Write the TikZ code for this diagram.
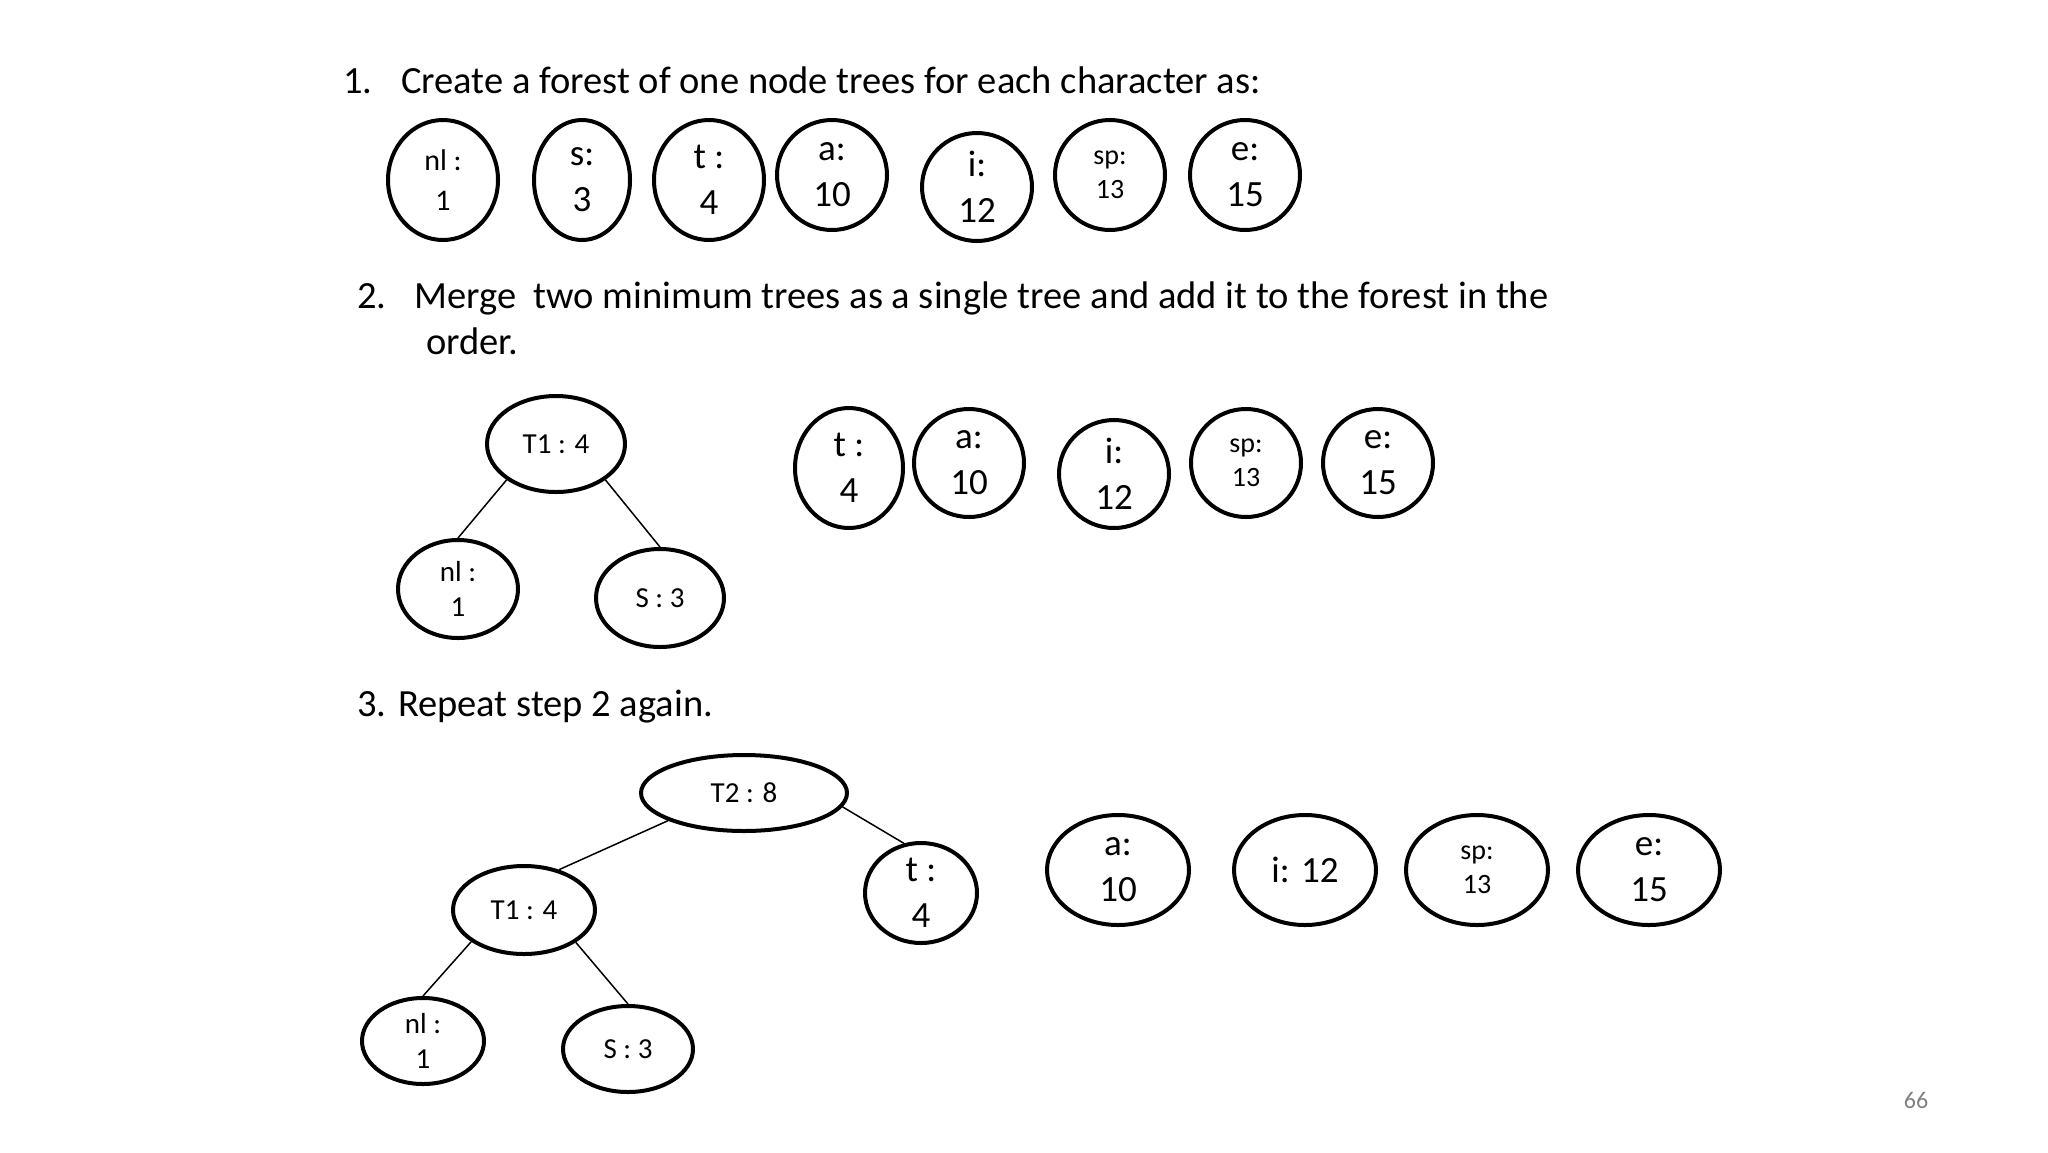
\documentclass[tikz,border=0pt]{standalone}
\usepackage{fontspec}
\setmainfont{Carlito}
\usetikzlibrary{shapes.geometric}
\definecolor{pgnum}{RGB}{128,128,128}
\tikzset{
  tnode/.style={ellipse, draw, line width=4pt, inner sep=0pt, align=center},
  sz/.style 2 args={minimum width=#1pt, minimum height=#2pt},
  bigf/.style={font=\fontsize{37}{46}\selectfont},
  midf/.style={font=\fontsize{30}{40}\selectfont},
  smallf/.style={font=\fontsize{29}{35}\selectfont},
  spf/.style={font=\fontsize{28}{34}\selectfont},
  titlef/.style={font=\fontsize{38.5}{46}\selectfont, inner sep=0pt, anchor=base west, align=left},
  edge/.style={line width=1.5pt},
}
\begin{document}
\begin{tikzpicture}[x=1pt,y=-1pt]
\useasboundingbox[fill=white] (0,0) rectangle (2048,1152);

% ---- step 1
\node[titlef] (t1) at (343,93) {\makebox[58pt][l]{1.}Create a forest of one node trees for each character as:};
\node[tnode,sz={110}{120},midf]   (a1) at (443,180) {nl :\\1};
\node[tnode,sz={96}{120},bigf]    (a2) at (582,180) {s:\\3};
\node[tnode,sz={110}{120},bigf]   (a3) at (709,180) {t :\\4};
\node[tnode,sz={110}{110},bigf]   (a4) at (832,175) {a:\\10};
\node[tnode,sz={110}{108},bigf]   (a5) at (977,187) {i:\\12};
\node[tnode,sz={110}{110},spf]    (a6) at (1110,175) {sp:\\13};
\node[tnode,sz={110}{110},bigf]   (a7) at (1245,175) {e:\\15};

% ---- step 2
\node[titlef] (t2) at (357,354) {\makebox[57pt][l]{2.}Merge\ \ two minimum trees as a single tree and add it to the forest in the\\\hspace*{69pt}order.};
\node[tnode,sz={138}{96},smallf]  (b0) at (556,444) {T1 : 4};
\node[tnode,sz={120}{98},smallf]  (b1) at (458,589) {nl :\\1};
\node[tnode,sz={128}{98},smallf]  (b2) at (660,598) {S : 3};
\draw[edge] (b0.216) -- (b1.north);
\draw[edge] (b0.324) -- (b2.north);
\node[tnode,sz={108}{120},bigf]   (b3) at (849,468) {t :\\4};
\node[tnode,sz={110}{108},bigf]   (b4) at (969,463) {a:\\10};
\node[tnode,sz={110}{108},bigf]   (b5) at (1114,474) {i:\\12};
\node[tnode,sz={110}{108},spf]    (b6) at (1246,463) {sp:\\13};
\node[tnode,sz={110}{108},bigf]   (b7) at (1378,463) {e:\\15};

% ---- step 3
\node[titlef] (t3) at (357,716) {3. Repeat step 2 again.};
\node[tnode,sz={206}{76},smallf]  (c0) at (744,793) {T2 : 8};
\node[tnode,sz={142}{88},smallf]  (c1) at (524,910) {T1 : 4};
\node[tnode,sz={112}{100},bigf]   (c2) at (921,893) {t :\\4};
\node[tnode,sz={122}{86},smallf]  (c3) at (423,1041) {nl :\\1};
\node[tnode,sz={130}{86},smallf]  (c4) at (628,1049) {S : 3};
\draw[edge] (c0.200) -- (c1.49);
\draw[edge] (c0.352) -- (c2.109);
\draw[edge] (c1.211) -- (c3.north);
\draw[edge] (c1.328) -- (c4.north);
\node[tnode,sz={142}{110},bigf]   (c5) at (1118,870) {a:\\10};
\node[tnode,sz={142}{110},bigf]   (c6) at (1305,870) {i: 12};
\node[tnode,sz={142}{110},spf]    (c7) at (1477,870) {sp:\\13};
\node[tnode,sz={142}{110},bigf]   (c8) at (1649,870) {e:\\15};

% page number
\node[font=\fontsize{24}{28}\selectfont, text=pgnum] (pg) at (1916,1100) {66};
\end{tikzpicture}
\end{document}
